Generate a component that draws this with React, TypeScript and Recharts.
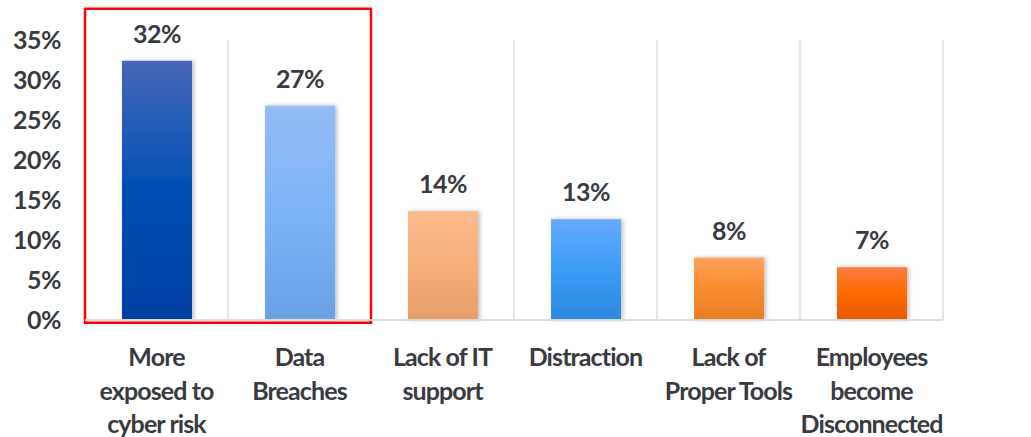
import React from 'react';
import {
  BarChart,
  Bar,
  XAxis,
  YAxis,
  CartesianGrid,
  LabelList,
  ReferenceArea,
} from 'recharts';

const categories = [
  'More\nexposed to\ncyber risk',
  'Data\nBreaches',
  'Lack of IT\nsupport',
  'Distraction',
  'Lack of\nProper Tools',
  'Employees\nbecome\nDisconnected',
];
const shares = [32.4, 26.8, 13.6, 12.6, 7.8, 6.6];
const yTicks = [0, 5, 10, 15, 20, 25, 30, 35];
const highlighted = [categories[0], categories[1]];

// top / middle / bottom gradient stops per bar
const barGradients = [
  ['#4767b8', '#0050b4', '#0040a2'],
  ['#94bcf4', '#7db4f8', '#69a0e6'],
  ['#fdba8c', '#f6ae7c', '#e89d69'],
  ['#64aaff', '#3c9cf6', '#2b88e0'],
  ['#ffa35c', '#f98b30', '#e67d25'],
  ['#ff7c40', '#ff6a00', '#e65a00'],
];

const data = categories.map((name, i) => ({ name, value: shares[i] }));

const FONT = 'Lato, "Open Sans", sans-serif';
const TEXT = '#383a3f';
const GRID = '#dcdcdc';

const CategoryTick = (props: any) => {
  const { x, y, payload } = props;
  const lines = String(payload.value).split('\n');
  return (
    <text
      x={x}
      y={y + 46}
      textAnchor="middle"
      fill={TEXT}
      fontFamily={FONT}
      fontWeight={700}
      fontSize={25}
      letterSpacing={-0.9}
    >
      {lines.map((l, i) => (
        <tspan key={i} x={x} dy={i === 0 ? 0 : 33.5}>
          {l}
        </tspan>
      ))}
    </text>
  );
};

const ValueLabel = (props: any) => {
  const { x, y, width, value } = props;
  return (
    <text
      x={x + width / 2}
      y={y - 18}
      textAnchor="middle"
      fill={TEXT}
      fontFamily={FONT}
      fontWeight={700}
      fontSize={25}
      letterSpacing={-0.5}
    >
      {Math.round(value)}%
    </text>
  );
};

const BarShape = (props: any) => {
  const { x, y, width, height, index } = props;
  return (
    <rect
      x={x}
      y={y}
      width={width}
      height={height}
      fill={`url(#barGrad${index})`}
      filter="url(#barShadow)"
    />
  );
};

const App: React.FC = () => {
  return (
    <div style={{ position: 'absolute', left: 0, top: 0, background: '#fff' }}>
      <BarChart
        width={1031}
        height={437}
        data={data}
        margin={{ top: 40, right: 88, bottom: 87, left: 0 }}
        barCategoryGap={0}
      >
        <defs>
          {barGradients.map((g, i) => (
            <linearGradient key={i} id={`barGrad${i}`} x1="0" y1="0" x2="0" y2="1">
              <stop offset="0%" stopColor={g[0]} />
              <stop offset="50%" stopColor={g[1]} />
              <stop offset="100%" stopColor={g[2]} />
            </linearGradient>
          ))}
          <filter id="barShadow" x="-20%" y="-5%" width="140%" height="110%">
            <feDropShadow dx={2} dy={0} stdDeviation={2} floodColor="#000" floodOpacity={0.25} />
          </filter>
        </defs>
        <CartesianGrid
          horizontal={false}
          stroke={GRID}
          strokeWidth={1.5}
          verticalCoordinatesGenerator={({ offset }: any) =>
            categories
              .map((_, i) => offset.left + (i * offset.width) / categories.length)
              .concat(offset.left + offset.width)
          }
        />
        <XAxis
          dataKey="name"
          height={30}
          interval={0}
          tickLine={false}
          tickSize={0}
          tickMargin={0}
          axisLine={{ stroke: GRID, strokeWidth: 2 }}
          tick={<CategoryTick />}
        />
        <YAxis
          width={85}
          domain={[0, 35]}
          ticks={yTicks}
          axisLine={false}
          tickLine={false}
          tickSize={0}
          tickMargin={24}
          tickFormatter={(v: number) => `${v}%`}
          tick={{ fill: TEXT, fontFamily: FONT, fontWeight: 700, fontSize: 25, letterSpacing: -0.5 }}
        />
        <Bar dataKey="value" barSize={70} isAnimationActive={false} shape={<BarShape />}>
          <LabelList dataKey="value" content={<ValueLabel />} />
        </Bar>
        <ReferenceArea
          x1={highlighted[0]}
          x2={highlighted[1]}
          y1={-0.35}
          y2={38.9}
          ifOverflow="visible"
          fill="none"
          stroke="#ff0000"
          strokeWidth={2.5}
        />
      </BarChart>
    </div>
  );
};

export default App;
